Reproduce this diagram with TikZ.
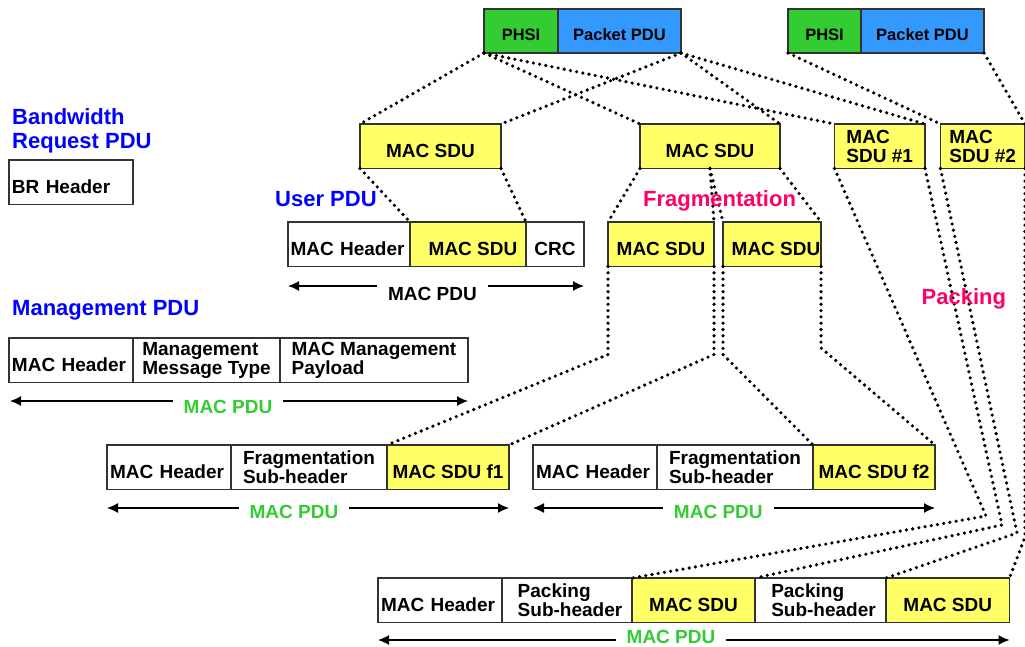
\documentclass[tikz,border=0pt]{standalone}
\usepackage{fontspec}
\setmainfont{Liberation Sans}
\usetikzlibrary{arrows.meta,calc}

\definecolor{sduyellow}{HTML}{FFFF66}
\definecolor{phsigreen}{HTML}{33CC33}
\definecolor{pdublue}{HTML}{3399FF}
\definecolor{headblue}{HTML}{0000FF}
\definecolor{opmagenta}{HTML}{FF0066}
\definecolor{pdugreen}{HTML}{33CC33}
\definecolor{edge}{HTML}{333333}

\begin{document}
\begin{tikzpicture}[x=1pt, y=-1pt,
  cell/.style={draw=edge, line width=1.1pt, inner sep=0pt, outer sep=0pt,
    anchor=north west, align=left, minimum height=44.5pt,
    font=\bfseries\fontsize{19}{18.5}\selectfont},
  oneline/.style={text height=23.5pt, text depth=1pt},
  topcell/.style={cell, minimum height=44pt,
    font=\bfseries\fontsize{16.5}{18}\selectfont,
    text height=20.5pt, text depth=0.8pt},
  sdu/.style={fill=sduyellow},
  heading/.style={inner sep=0pt, text=headblue, align=left,
    font=\bfseries\fontsize{22}{24}\selectfont},
  optag/.style={heading, text=opmagenta},
  pduarrow/.style={line width=1.3pt, >={Latex[length=11pt,width=10pt]}, <->},
  pdulabel/.style={fill=white, inner xsep=11pt, inner ysep=3pt,
    font=\bfseries\fontsize{19}{19}\selectfont},
  dotlink/.style={line width=3.6pt, dash pattern=on 0pt off 6.3pt, line cap=round}
]
\useasboundingbox (0,0) rectangle (1025,647);

% --- packets entering the convergence sublayer
\node[topcell, fill=phsigreen, minimum width=74pt] (phsiA) at (484,9) {PHSI};
\node[topcell, fill=pdublue, minimum width=123pt] (pktA) at (phsiA.north east) {Packet PDU};
\node[topcell, fill=phsigreen, minimum width=73pt] (phsiB) at (788,9) {PHSI};
\node[topcell, fill=pdublue, minimum width=123pt] (pktB) at (phsiB.north east) {Packet PDU};

% --- MAC SDUs
\node[cell, oneline, sdu, minimum width=141pt] (usdu) at (360,124) {MAC SDU};
\node[cell, oneline, sdu, minimum width=140pt] (fsdu) at (640,124) {MAC SDU};
\node[cell, sdu, minimum width=90.5pt] (sduA) at (834.5,124) {MAC\\SDU \#1};
\node[cell, sdu, minimum width=84.5pt] (sduB) at (940.5,124) {MAC\\SDU \#2};

% --- bandwidth request PDU
\node[cell, oneline, minimum width=124pt, text width=118pt] (brh) at (9,160) {BR Header};

% --- user PDU
\node[cell, oneline, minimum width=122pt, text width=117pt] (uhdr) at (288,222) {MAC Header};
\node[cell, oneline, sdu, minimum width=116pt] (umsdu) at (uhdr.north east) {\hspace*{10pt}MAC SDU};
\node[cell, oneline, minimum width=58pt] (ucrc) at (umsdu.north east) {CRC};

% --- fragments
\node[cell, oneline, sdu, minimum width=106pt] (fragA) at (608,222) {MAC SDU};
\node[cell, oneline, sdu, minimum width=98pt] (fragB) at (723,222) {\hspace*{8pt}MAC SDU};

% --- management PDU
\node[cell, oneline, minimum width=124pt, text width=118pt] (mhdr) at (9,338) {MAC Header};
\node[cell, minimum width=147pt] (mtype) at (mhdr.north east) {Management\\Message Type};
\node[cell, minimum width=188pt] (mpay) at (mtype.north east) {MAC Management\\Payload};

% --- fragmented MAC PDUs
\node[cell, oneline, minimum width=124pt, text width=118pt] (f1hdr) at (107,445) {MAC Header};
\node[cell, minimum width=156pt] (f1sub) at (f1hdr.north east) {Fragmentation\\Sub-header};
\node[cell, oneline, sdu, minimum width=122pt] (f1sdu) at (f1sub.north east) {MAC SDU f1};

\node[cell, oneline, minimum width=124pt, text width=118pt] (f2hdr) at (533,445) {MAC Header};
\node[cell, minimum width=156pt] (f2sub) at (f2hdr.north east) {Fragmentation\\Sub-header};
\node[cell, oneline, sdu, minimum width=122pt] (f2sdu) at (f2sub.north east) {MAC SDU f2};

% --- packed MAC PDU
\node[cell, oneline, minimum width=124pt, text width=118pt] (phdr) at (378,578) {MAC Header};
\node[cell, minimum width=130pt] (psubA) at (phdr.north east) {\hspace*{6pt}Packing\\\hspace*{6pt}Sub-header};
\node[cell, oneline, sdu, minimum width=123pt] (psduA) at (psubA.north east) {MAC SDU};
\node[cell, minimum width=131pt] (psubB) at (psduA.north east) {\hspace*{6pt}Packing\\\hspace*{6pt}Sub-header};
\node[cell, oneline, sdu, minimum width=123.5pt] (psduB) at (psubB.north east) {MAC SDU};

% --- MAC PDU extent arrows
\draw[pduarrow] ($(uhdr.south west)+(0,19.5)$) -- ($(ucrc.south east)+(0,19.5)$)
  node[pdulabel, pos=0.488, yshift=-7.5pt] {MAC PDU};
\draw[pduarrow] ($(mhdr.south west)+(1,18.5)$) -- ($(mpay.south east)+(0,18.5)$)
  node[pdulabel, text=pdugreen, pos=0.476, yshift=-5.5pt] {MAC PDU};
\draw[pduarrow] ($(f1hdr.south west)+(0,18.5)$) -- ($(f1sdu.south east)+(0,18.5)$)
  node[pdulabel, text=pdugreen, pos=0.465, yshift=-3.5pt] {MAC PDU};
\draw[pduarrow] ($(f2hdr.south west)+(0,18.5)$) -- ($(f2sdu.south east)+(0,18.5)$)
  node[pdulabel, text=pdugreen, pos=0.461, yshift=-3.5pt] {MAC PDU};
\draw[pduarrow] ($(phdr.south west)+(0,17.5)$) -- ($(psduB.south east)+(0,17.5)$)
  node[pdulabel, text=pdugreen, pos=0.464, yshift=3pt] {MAC PDU};

% --- packet to SDU mapping
\draw[dotlink] (phsiA.south west) -- (usdu.north west);
\draw[dotlink] (pktA.south east) -- (usdu.north east);
\draw[dotlink] (phsiA.south west) -- (fsdu.north west);
\draw[dotlink] (pktA.south east) -- (fsdu.north east);
\draw[dotlink] (phsiA.south west) -- (sduA.north west);
\draw[dotlink] (pktA.south east) -- (sduA.north east);
\draw[dotlink] (phsiB.south west) -- (sduB.north west);
\draw[dotlink] (pktB.south east) -- (sduB.north east);

% --- SDU into user PDU
\draw[dotlink] (usdu.south west) -- (umsdu.north west);
\draw[dotlink] (usdu.south east) -- (umsdu.north east);

% --- fragmentation
\draw[dotlink] (fsdu.south west) -- (fragA.north west);
\draw[dotlink] (fsdu.south) -- (fragA.north east);
\draw[dotlink] (fsdu.south) -- (fragB.north west);
\draw[dotlink] (fsdu.south east) -- (fragB.north east);
\draw[dotlink] (fragA.south west) -- ++(0,88) -- (f1sdu.north west);
\draw[dotlink] (fragA.south east) -- ++(0,88) -- (f1sdu.north east);
\draw[dotlink] (fragB.south west) -- ++(0,88) -- (f2sdu.north west);
\draw[dotlink] (fragB.south east) -- ++(0,81.5) -- (f2sdu.north east);

% --- packing
\coordinate (bendA) at (986,516);
\coordinate (bendB) at (1002,525);
\coordinate (bendC) at (1017,533);
\coordinate (bendD) at (1025,537);
\draw[dotlink] (sduA.south west) -- (bendA) -- (psduA.north west);
\draw[dotlink] (sduA.south east) -- (bendB) -- (psduA.north east);
\draw[dotlink] (sduB.south west) -- (bendC) -- (psduB.north west);
\draw[dotlink] (sduB.south east) -- (bendD) -- (psduB.north east);

% --- titles
\node[heading, anchor=north west] (bwtitle) at (12,108) {Bandwidth\\Request PDU};
\node[heading, anchor=base west] (usertitle) at (275,207) {User PDU};
\node[heading, anchor=base west] (mgmttitle) at (12,315) {Management PDU};
\node[optag, anchor=base west] (fragtitle) at (643,207) {Fragmentation};
\node[optag, anchor=base west] (packtitle) at (921.5,304) {Packing};
\end{tikzpicture}
\end{document}
